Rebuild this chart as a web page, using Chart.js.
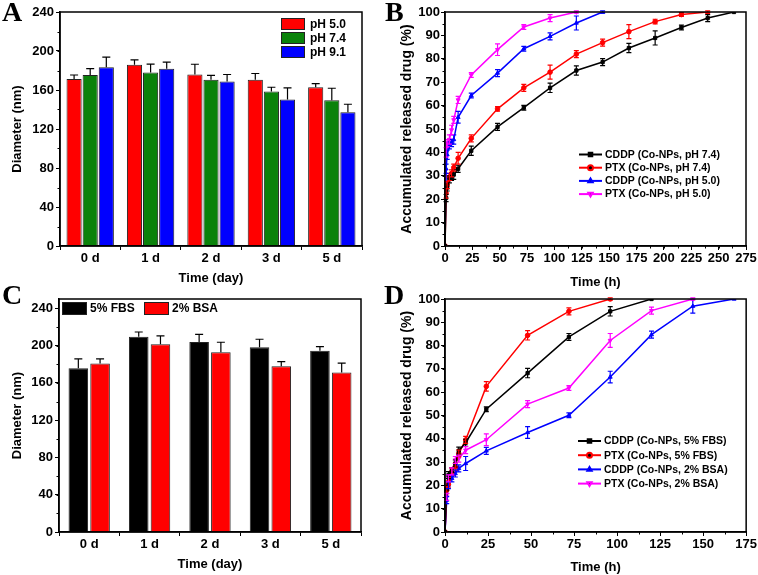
<!DOCTYPE html>
<html>
<head>
<meta charset="utf-8">
<script src="https://cdn.jsdelivr.net/npm/chart.js@4.4.1/dist/chart.umd.min.js"></script>
<style>
  body { margin: 0; background: #fff; width: 758px; height: 575px; position: relative; overflow: hidden; }
  canvas { position: absolute; }
</style>
</head>
<body>
<canvas id="chartA" width="379" height="290" style="left:0;top:0"></canvas>
<canvas id="chartB" width="379" height="290" style="left:379px;top:0"></canvas>
<canvas id="chartC" width="379" height="290" style="left:0;top:285px"></canvas>
<canvas id="chartD" width="379" height="290" style="left:379px;top:285px"></canvas>
<script>
// bar panels (A, C)
const dayLabels = ['0 d', '1 d', '2 d', '3 d', '5 d'];
const ph50 = [171.4, 185.8, 175.9, 170.4, 162.8];
const ph50Err = [4, 5, 10.5, 6.5, 3.8];
const ph74 = [175.5, 178, 170.4, 158.4, 149.5];
const ph74Err = [6.5, 8.5, 4.6, 4.4, 12.3];
const ph91 = [183.4, 181.7, 168.7, 150.2, 137.1];
const ph91Err = [10.3, 6.8, 7.2, 12, 8.3];

const fbs = [175.7, 209.6, 203.9, 198.2, 194.6];
const fbsErr = [10, 5, 8.2, 8.6, 4.3];
const bsa = [180.7, 201.4, 192.9, 177.9, 171.1];
const bsaErr = [5, 9, 10.7, 5, 10];

// release panel B (hours)
const timeB = [0, 1, 2, 4, 6, 8, 12, 24, 48, 72, 96, 120, 144, 168, 192, 216, 240, 264];
const cddp74 = [0, 20.5, 25, 28.5, 29.5, 30.5, 33, 40.7, 50.9, 59.1, 67.6, 75, 78.6, 84.6, 88.9, 93.4, 97.4, 100];
const cddp74Err = [0, 1.5, 1.5, 1.5, 1.5, 2, 1.5, 2, 1.5, 1, 2, 2, 1.5, 2, 3, 1, 1.5, 0];
const ptx74 = [0, 22.5, 26, 29.5, 31, 33.5, 37.5, 46, 58.6, 67.6, 74.3, 82, 86.9, 91.6, 95.9, 98.9, 100];
const ptx74Err = [0, 2, 1.5, 1.5, 1.5, 1.5, 2.5, 1.5, 1, 1.5, 3, 1.5, 1.5, 3, 1, 0.8, 0.5];
const cddp50 = [0, 33, 39, 43, 44, 45.5, 55, 64.3, 73.9, 84.3, 89.6, 95.3, 100];
const cddp50Err = [0, 2, 2, 1.5, 1.5, 2, 2.5, 1, 1.5, 1, 1.5, 3, 0.5];
const ptx50 = [0, 40, 44, 45.5, 49.6, 53.9, 62.4, 73.1, 83.9, 93.6, 97.4, 100];
const ptx50Err = [0, 2, 1.5, 2, 2, 1.5, 1.5, 1, 2.5, 1, 1.5, 0.5];

// release panel D (hours)
const timeD = [0, 1, 2, 4, 6, 8, 12, 24, 48, 72, 96, 120, 144, 168];
const cddpFbs = [0, 18.7, 24.4, 26.6, 29.4, 34.9, 38.3, 52.7, 68.2, 83.7, 94.7, 100];
const cddpFbsErr = [0, 1, 1.5, 1, 1.5, 1.5, 1.5, 1, 2, 1.5, 2, 0];
const ptxFbs = [0, 18, 20.5, 25.9, 28, 33.7, 39.5, 62.5, 84.4, 94.7, 100];
const ptxFbsErr = [0, 1.5, 1.5, 1.5, 1.5, 1.5, 1.5, 2, 2, 1.5, 0.5];
const cddpBsa = [0, 13.7, 20.1, 23, 25.1, 27.3, 29.4, 34.8, 42.7, 50.1, 66.5, 84.7, 96.9, 100];
const cddpBsaErr = [0, 1.5, 1.5, 1.5, 1.5, 1.5, 3, 1.5, 2.5, 1, 2.5, 1.5, 3, 0];
const ptxBsa = [0, 15.1, 23, 26, 30.9, 31.5, 35.1, 39.6, 54.9, 61.8, 82.2, 95, 100];
const ptxBsaErr = [0, 1.5, 1.5, 1.5, 1.5, 1.5, 1.5, 2.5, 1.5, 1, 3, 1.5, 0.5];

const FONT = '"Liberation Sans", Arial, sans-serif';
const tickFont = { family: FONT, size: 13, weight: 'bold' };
const titleFont = { family: FONT, size: 13, weight: 'bold' };

function points(times, values) {
    return values.map((v, i) => ({ x: times[i], y: v }));
}

// error bars: upper only for bars, both sides for lines
const errorBarPlugin = {
    id: 'errorBars',
    afterDatasetsDraw(chart) {
        const ctx = chart.ctx;
        const yScale = chart.scales.y;
        chart.data.datasets.forEach((ds, i) => {
            if (!ds.errors) return;
            const meta = chart.getDatasetMeta(i);
            ctx.save();
            ctx.strokeStyle = ds.errorColor || ds.borderColor;
            ctx.lineWidth = 1.2;
            meta.data.forEach((el, j) => {
                const e = ds.errors[j];
                if (!e) return;
                const v = typeof ds.data[j] === 'number' ? ds.data[j] : ds.data[j].y;
                const cap = ds.capWidth || 2.5;
                const yHi = yScale.getPixelForValue(v + e);
                const yLo = ds.upperOnly ? el.y : yScale.getPixelForValue(v - e);
                ctx.beginPath();
                ctx.moveTo(el.x, yLo);
                ctx.lineTo(el.x, yHi);
                ctx.moveTo(el.x - cap, yHi);
                ctx.lineTo(el.x + cap, yHi);
                if (!ds.upperOnly) {
                    ctx.moveTo(el.x - cap, yLo);
                    ctx.lineTo(el.x + cap, yLo);
                }
                ctx.stroke();
            });
            ctx.restore();
        });
    }
};

// box, minor ticks, panel letter
const framePlugin = {
    id: 'frame',
    afterDraw(chart, args, opts) {
        const { ctx, chartArea: a, scales } = chart;
        ctx.save();
        ctx.strokeStyle = '#000';
        ctx.lineWidth = 1.5;
        ctx.strokeRect(a.left, a.top, a.right - a.left, a.bottom - a.top);
        ctx.lineWidth = 1;
        if (opts.yMinor) {
            for (let v = scales.y.min; v <= scales.y.max; v += opts.yMinor) {
                const y = Math.round(scales.y.getPixelForValue(v)) + 0.5;
                ctx.beginPath();
                ctx.moveTo(a.left, y);
                ctx.lineTo(a.left - 2.5, y);
                ctx.stroke();
            }
        }
        if (opts.xMinor) {
            for (let v = scales.x.min; v <= scales.x.max; v += opts.xMinor) {
                const x = Math.round(scales.x.getPixelForValue(v)) + 0.5;
                ctx.beginPath();
                ctx.moveTo(x, a.bottom);
                ctx.lineTo(x, a.bottom + 2.5);
                ctx.stroke();
            }
        }
        ctx.fillStyle = '#000';
        ctx.font = 'bold 28px "Liberation Serif", "Times New Roman", serif';
        ctx.textBaseline = 'alphabetic';
        ctx.textAlign = 'left';
        ctx.fillText(opts.letter, opts.lx, opts.ly);
        ctx.restore();
    }
};

// legend inside the plot
const insetLegendPlugin = {
    id: 'insetLegend',
    afterDraw(chart, args, o) {
        const ctx = chart.ctx;
        ctx.save();
        ctx.font = 'bold ' + o.fontSize + 'px ' + FONT;
        ctx.textBaseline = 'middle';
        ctx.textAlign = 'left';
        chart.data.datasets.forEach((ds, i) => {
            const x = o.x + i * (o.dx || 0);
            const y = o.y + i * (o.dy || 0);
            if (o.kind === 'box') {
                ctx.fillStyle = ds.backgroundColor;
                ctx.fillRect(x, y, o.w, o.h);
                ctx.strokeStyle = '#222';
                ctx.lineWidth = 1;
                ctx.strokeRect(x + 0.5, y + 0.5, o.w - 1, o.h - 1);
                ctx.fillStyle = '#000';
                ctx.fillText(ds.label, x + o.w + o.gap, y + o.h / 2 + 0.5);
            } else {
                ctx.strokeStyle = ds.borderColor;
                ctx.lineWidth = 2;
                ctx.beginPath();
                ctx.moveTo(x, y);
                ctx.lineTo(x + o.w, y);
                ctx.stroke();
                Chart.helpers.drawPoint(ctx, {
                    pointStyle: ds.pointStyle,
                    rotation: ds.pointRotation || 0,
                    radius: 2.5,
                    borderWidth: 1
                }, x + o.w / 2, y);
                ctx.fillStyle = '#000';
                ctx.fillText(ds.label, x + o.w + o.gap, y + 0.5);
            }
        });
        ctx.restore();
    }
};

function barChart(id, datasets, opt) {
    return new Chart(document.getElementById(id), {
        type: 'bar',
        data: { labels: dayLabels, datasets: datasets },
        options: {
            responsive: false,
            animation: false,
            layout: { padding: { top: opt.top, right: opt.right, left: 0, bottom: 0 } },
            datasets: {
                bar: {
                    categoryPercentage: opt.cat,
                    barPercentage: opt.bar,
                    borderColor: '#222',
                    borderWidth: 1
                }
            },
            plugins: {
                legend: { display: false },
                tooltip: { enabled: false },
                frame: { yMinor: 20, letter: opt.letter, lx: opt.lx, ly: opt.ly },
                insetLegend: opt.legend
            },
            scales: {
                x: {
                    grid: { drawOnChartArea: false, tickLength: 4, color: '#000' },
                    border: { color: '#000', width: 1.5 },
                    ticks: { font: tickFont, color: '#000', padding: 1 },
                    title: { display: true, text: 'Time (day)', font: titleFont, color: '#000', padding: { top: 0, bottom: opt.xTitlePad } },
                    afterFit: s => { s.height = opt.xHeight; }
                },
                y: {
                    min: 0,
                    max: opt.yMax,
                    grid: { drawOnChartArea: false, tickLength: 4, color: '#000' },
                    border: { color: '#000', width: 1.5 },
                    ticks: { stepSize: 40, includeBounds: false, font: tickFont, color: '#000', padding: 2 },
                    title: { display: true, text: 'Diameter (nm)', font: titleFont, color: '#000', padding: { top: 10, bottom: 0 } },
                    afterFit: s => { s.width = opt.yWidth; }
                }
            }
        },
        plugins: [errorBarPlugin, framePlugin, insetLegendPlugin]
    });
}

function lineSet(label, times, values, errors, color, style, rotation) {
    return {
        label: label,
        data: points(times, values),
        errors: errors,
        borderColor: color,
        backgroundColor: color,
        borderWidth: 1.5,
        pointStyle: style,
        pointRotation: rotation || 0,
        pointRadius: 2.3,
        pointBorderWidth: 1,
        tension: 0,
        capWidth: 2.5
    };
}

function releaseChart(id, datasets, opt) {
    return new Chart(document.getElementById(id), {
        type: 'line',
        data: { datasets: datasets },
        options: {
            responsive: false,
            animation: false,
            layout: { padding: { top: opt.top, right: opt.right, left: 0, bottom: 0 } },
            plugins: {
                legend: { display: false },
                tooltip: { enabled: false },
                frame: { yMinor: 5, xMinor: 12.5, letter: opt.letter, lx: opt.lx, ly: opt.ly },
                insetLegend: opt.legend
            },
            scales: {
                x: {
                    type: 'linear',
                    min: 0,
                    max: opt.xMax,
                    grid: { drawOnChartArea: false, tickLength: 4, color: '#000' },
                    border: { color: '#000', width: 1.5 },
                    ticks: { stepSize: 25, autoSkip: false, maxRotation: 0, font: tickFont, color: '#000', padding: 1 },
                    title: { display: true, text: 'Time (h)', font: titleFont, color: '#000', padding: { top: 0, bottom: opt.xTitlePad } },
                    afterFit: s => { s.height = opt.xHeight; }
                },
                y: {
                    min: 0,
                    max: 100,
                    grid: { drawOnChartArea: false, tickLength: 4, color: '#000' },
                    border: { color: '#000', width: 1.5 },
                    ticks: { stepSize: 10, font: tickFont, color: '#000', padding: 1 },
                    title: { display: true, text: 'Accumulated released drug (%)', font: { family: FONT, size: 14, weight: 'bold' }, color: '#000', padding: { top: 20, bottom: 0 } },
                    afterFit: s => { s.width = 66; }
                }
            }
        },
        plugins: [errorBarPlugin, framePlugin, insetLegendPlugin]
    });
}

document.addEventListener('DOMContentLoaded', () => {
    barChart('chartA', [
        { label: 'pH 5.0', data: ph50, errors: ph50Err, backgroundColor: '#ff0000', errorColor: '#000', upperOnly: true, capWidth: 4 },
        { label: 'pH 7.4', data: ph74, errors: ph74Err, backgroundColor: '#0a820a', errorColor: '#000', upperOnly: true, capWidth: 4 },
        { label: 'pH 9.1', data: ph91, errors: ph91Err, backgroundColor: '#0000ff', errorColor: '#000', upperOnly: true, capWidth: 4 }
    ], {
        top: 12, right: 17, yWidth: 60, xHeight: 44, xTitlePad: 4, yMax: 240,
        cat: 0.8, bar: 0.94, letter: 'A', lx: 2, ly: 21,
        legend: { kind: 'box', x: 281, y: 18, w: 24, h: 12, dy: 14, gap: 5, fontSize: 12 }
    });

    barChart('chartC', [
        { label: '5% FBS', data: fbs, errors: fbsErr, backgroundColor: '#000000', errorColor: '#000', upperOnly: true, capWidth: 4 },
        { label: '2% BSA', data: bsa, errors: bsaErr, backgroundColor: '#ff0000', errorColor: '#000', upperOnly: true, capWidth: 4 }
    ], {
        top: 14, right: 18, yWidth: 59, xHeight: 43, xTitlePad: 3, yMax: 250,
        cat: 0.72, bar: 0.9, letter: 'C', lx: 2, ly: 19,
        legend: { kind: 'box', x: 62, y: 17, w: 25, h: 13, dx: 82, gap: 3, fontSize: 12 }
    });

    releaseChart('chartB', [
        lineSet('CDDP (Co-NPs, pH 7.4)', timeB, cddp74, cddp74Err, '#000000', 'rect'),
        lineSet('PTX (Co-NPs, pH 7.4)', timeB, ptx74, ptx74Err, '#ff0000', 'circle'),
        lineSet('CDDP (Co-NPs, pH 5.0)', timeB, cddp50, cddp50Err, '#0000ff', 'triangle'),
        lineSet('PTX (Co-NPs, pH 5.0)', timeB, ptx50, ptx50Err, '#ff00ff', 'triangle', 180)
    ], {
        top: 12, right: 12, xMax: 275, xHeight: 44, xTitlePad: 0,
        letter: 'B', lx: 6, ly: 21,
        legend: { kind: 'line', x: 200, y: 154.5, w: 23, dy: 13.2, gap: 3, fontSize: 10.5 }
    });

    releaseChart('chartD', [
        lineSet('CDDP (Co-NPs, 5% FBS)', timeD, cddpFbs, cddpFbsErr, '#000000', 'rect'),
        lineSet('PTX (Co-NPs, 5% FBS)', timeD, ptxFbs, ptxFbsErr, '#ff0000', 'circle'),
        lineSet('CDDP (Co-NPs, 2% BSA)', timeD, cddpBsa, cddpBsaErr, '#0000ff', 'triangle'),
        lineSet('PTX (Co-NPs, 2% BSA)', timeD, ptxBsa, ptxBsaErr, '#ff00ff', 'triangle', 180)
    ], {
        top: 14, right: 11, xMax: 175, xHeight: 43, xTitlePad: 0,
        letter: 'D', lx: 5, ly: 19,
        legend: { kind: 'line', x: 199, y: 156, w: 23, dy: 14.2, gap: 3, fontSize: 10.5 }
    });
});
</script>
</body>
</html>
